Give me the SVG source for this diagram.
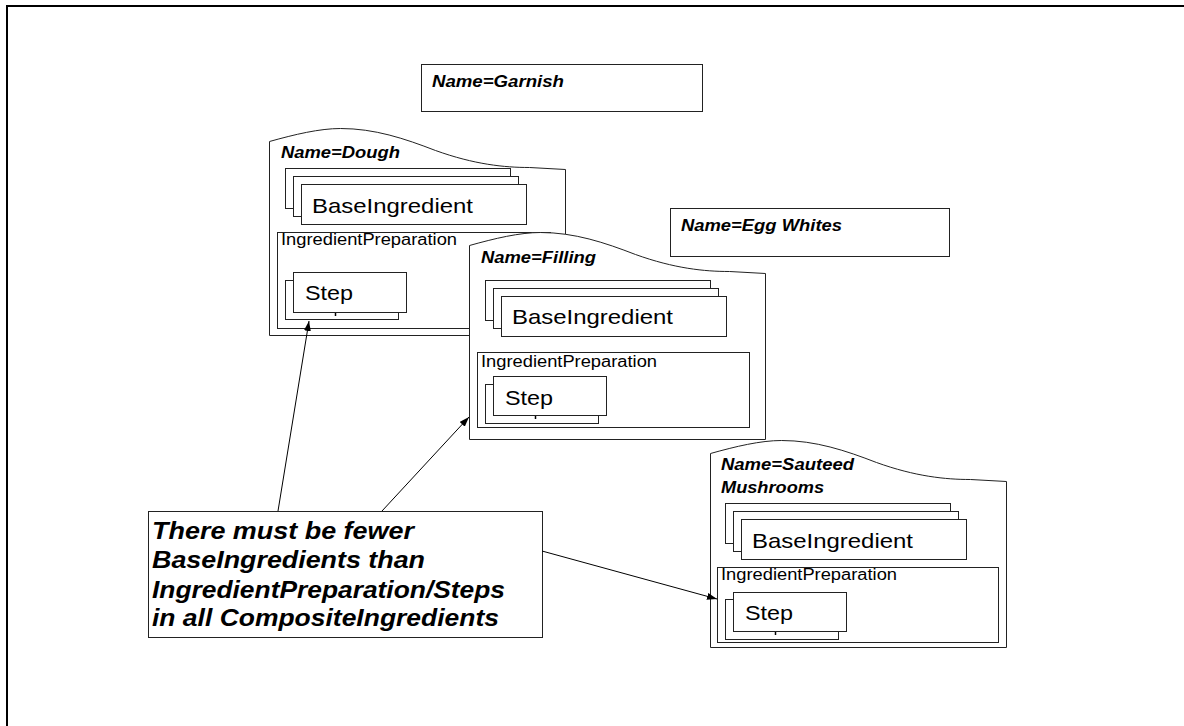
<svg xmlns="http://www.w3.org/2000/svg" xmlns:xlink="http://www.w3.org/1999/xlink" width="1184" height="726" viewBox="0 0 1184 726">
<style>
  .box { fill: #fff; stroke: #222; stroke-width: 1; }
  .name { font-family: "Liberation Sans", Arial, sans-serif; font-weight: bold; font-style: italic; font-size: 16px; fill: #000; }
  .big { font-family: "Liberation Sans", Arial, sans-serif; font-size: 21px; fill: #000; }
  .prep { font-family: "Liberation Sans", Arial, sans-serif; font-size: 16px; fill: #000; }
  .note { font-family: "Liberation Sans", Arial, sans-serif; font-weight: bold; font-style: italic; font-size: 23px; fill: #000; }
  .conn { stroke: #000; stroke-width: 1; fill: none; marker-end: url(#arrow); }
  .mark { stroke: #000; stroke-width: 1.5; }
</style>
<defs>
  <path id="wave" d="M0,0 C25,-7 50,-13 71,-13 C105,-13 135,-3 166,9 C205,23 235,26 260,26 L296,28 L296,194 L0,194 Z"/>
  <marker id="arrow" viewBox="0 0 10 7" refX="10" refY="3.5" markerWidth="10" markerHeight="7" markerUnits="userSpaceOnUse" orient="auto">
    <path d="M0,0 L10,3.5 L0,7 Z" fill="#000"/>
  </marker>
</defs>
<rect x="7" y="6" width="1220" height="760" fill="#fff" stroke="#000" stroke-width="2"/>

<g id="garnish">
  <rect class="box" x="421.5" y="64.5" width="281" height="47"/>
  <text class="name" x="432" y="87" textLength="132" lengthAdjust="spacingAndGlyphs">Name=Garnish</text>
</g>

<g id="egg-whites">
  <rect class="box" x="670.5" y="208.5" width="279" height="48"/>
  <text class="name" x="681" y="231" textLength="161" lengthAdjust="spacingAndGlyphs">Name=Egg Whites</text>
</g>

<g id="dough">
  <use xlink:href="#wave" href="#wave" class="box" transform="translate(269.5,141.5)"/>
  <text class="name" x="281" y="158" textLength="119" lengthAdjust="spacingAndGlyphs">Name=Dough</text>
  <rect class="box" x="285.5" y="168.5" width="225" height="40"/>
  <rect class="box" x="293.5" y="176.5" width="225" height="40"/>
  <rect class="box" x="301.5" y="184.5" width="225" height="40"/>
  <text class="big" x="312" y="213" textLength="161" lengthAdjust="spacingAndGlyphs">BaseIngredient</text>
  <rect class="box" x="277.5" y="232.5" width="273" height="96"/>
  <text class="prep" x="281" y="245" textLength="176" lengthAdjust="spacingAndGlyphs">IngredientPreparation</text>
  <rect class="box" x="285.5" y="280.5" width="113" height="39"/>
  <line class="mark" x1="335.5" y1="312" x2="335.5" y2="316"/>
  <rect class="box" x="293.5" y="272.5" width="113" height="40"/>
  <text class="big" x="305" y="300" textLength="48" lengthAdjust="spacingAndGlyphs">Step</text>
</g>

<g id="filling">
  <use xlink:href="#wave" href="#wave" class="box" transform="translate(469.5,245.5)"/>
  <text class="name" x="481" y="263" textLength="115" lengthAdjust="spacingAndGlyphs">Name=Filling</text>
  <rect class="box" x="485.5" y="280.5" width="225" height="40"/>
  <rect class="box" x="493.5" y="288.5" width="225" height="40"/>
  <rect class="box" x="501.5" y="296.5" width="225" height="40"/>
  <text class="big" x="512" y="324" textLength="161" lengthAdjust="spacingAndGlyphs">BaseIngredient</text>
  <rect class="box" x="477.5" y="352.5" width="272" height="75"/>
  <text class="prep" x="481" y="367" textLength="176" lengthAdjust="spacingAndGlyphs">IngredientPreparation</text>
  <rect class="box" x="485.5" y="384.5" width="113" height="39"/>
  <line class="mark" x1="535.5" y1="415" x2="535.5" y2="419"/>
  <rect class="box" x="493.5" y="376.5" width="113" height="39"/>
  <text class="big" x="505" y="405" textLength="48" lengthAdjust="spacingAndGlyphs">Step</text>
</g>

<g id="sauteed-mushrooms">
  <use xlink:href="#wave" href="#wave" class="box" transform="translate(710.5,453.5)"/>
  <text class="name" x="721" y="470" textLength="133" lengthAdjust="spacingAndGlyphs">Name=Sauteed</text>
  <text class="name" x="721" y="493" textLength="103" lengthAdjust="spacingAndGlyphs">Mushrooms</text>
  <rect class="box" x="725.5" y="503.5" width="225" height="40"/>
  <rect class="box" x="733.5" y="511.5" width="225" height="40"/>
  <rect class="box" x="741.5" y="519.5" width="225" height="40"/>
  <text class="big" x="752" y="548" textLength="161" lengthAdjust="spacingAndGlyphs">BaseIngredient</text>
  <rect class="box" x="717.5" y="567.5" width="281" height="75"/>
  <text class="prep" x="721" y="580" textLength="176" lengthAdjust="spacingAndGlyphs">IngredientPreparation</text>
  <rect class="box" x="725.5" y="599.5" width="113" height="40"/>
  <line class="mark" x1="775.5" y1="631" x2="775.5" y2="635"/>
  <rect class="box" x="733.5" y="592.5" width="113" height="39"/>
  <text class="big" x="745" y="620" textLength="48" lengthAdjust="spacingAndGlyphs">Step</text>
</g>

<g id="note">
  <rect class="box" x="148.5" y="511.5" width="394" height="126"/>
  <text class="note" x="152" y="539" textLength="262" lengthAdjust="spacingAndGlyphs">There must be fewer</text>
  <text class="note" x="152" y="568" textLength="273" lengthAdjust="spacingAndGlyphs">BaseIngredients than</text>
  <text class="note" x="152" y="598" textLength="353" lengthAdjust="spacingAndGlyphs">IngredientPreparation/Steps</text>
  <text class="note" x="152" y="626" textLength="347" lengthAdjust="spacingAndGlyphs">in all CompositeIngredients</text>
</g>

<g id="connectors">
  <line class="conn" x1="278" y1="511" x2="309" y2="321"/>
  <line class="conn" x1="382" y1="511" x2="469" y2="417"/>
  <line class="conn" x1="542" y1="551" x2="717" y2="599"/>
</g>
</svg>
